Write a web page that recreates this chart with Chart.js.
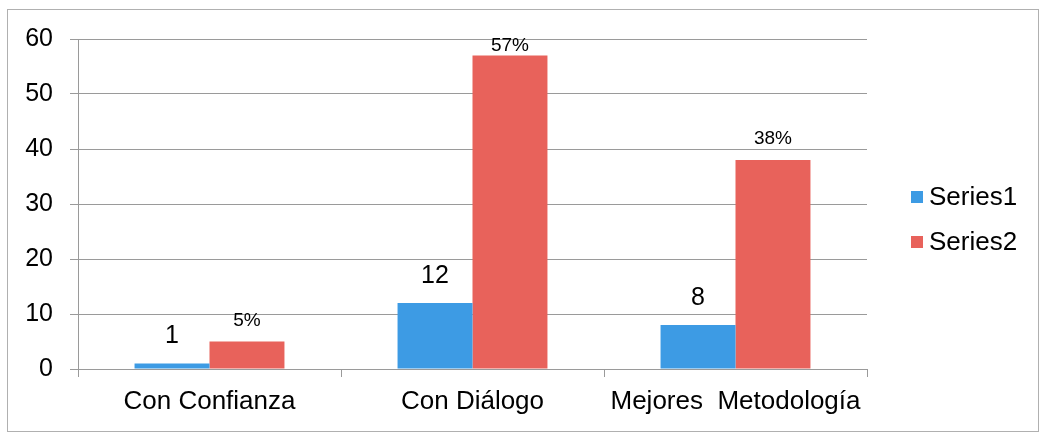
<!DOCTYPE html>
<html>
<head>
<meta charset="utf-8">
<script src="https://cdn.jsdelivr.net/npm/chart.js@4"></script>
<style>
html,body{margin:0;padding:0;background:#fff;}
canvas{display:block;}
</style>
</head>
<body>
<canvas id="c" width="1039" height="433"></canvas>
<script>
const categories = ['Con Confianza', 'Con Diálogo', 'Mejores  Metodología'];
const series1 = [1, 12, 8];
const series2 = [5, 57, 38];
const series2Labels = ['5%', '57%', '38%'];
const yTicks = [0, 10, 20, 30, 40, 50, 60];

const BLUE = '#3d9be4';
const RED = '#e8625b';
const GRID = '#9a9a9a';
const FONT = '"Liberation Sans", Arial, sans-serif';

const framePlugin = {
  id: 'frame',
  beforeDraw(chart) {
    const ctx = chart.ctx;
    ctx.save();
    ctx.fillStyle = '#fff';
    ctx.fillRect(0, 0, chart.width, chart.height);
    ctx.strokeStyle = '#b0b0b0';
    ctx.lineWidth = 1;
    ctx.strokeRect(7.5, 9.5, 1031, 422);
    ctx.restore();
  }
};

const labelPlugin = {
  id: 'labels',
  afterDatasetsDraw(chart) {
    const ctx = chart.ctx;
    const top = chart.chartArea.top;
    ctx.save();
    ctx.fillStyle = '#000';
    ctx.textAlign = 'center';
    ctx.textBaseline = 'middle';
    chart.getDatasetMeta(0).data.forEach((bar, i) => {
      ctx.font = '25px ' + FONT;
      ctx.fillText(String(series1[i]), bar.x, bar.y - 27);
    });
    chart.getDatasetMeta(1).data.forEach((bar, i) => {
      ctx.font = '19px ' + FONT;
      ctx.fillText(series2Labels[i], bar.x, Math.max(bar.y - 21, top + 7));
    });
    ctx.restore();
  }
};

const legendPlugin = {
  id: 'customLegend',
  afterDraw(chart) {
    const ctx = chart.ctx;
    ctx.save();
    ctx.textAlign = 'left';
    ctx.textBaseline = 'middle';
    ctx.font = '26px ' + FONT;
    const ys = [197, 242];
    chart.data.datasets.forEach((ds, i) => {
      ctx.fillStyle = ds.backgroundColor;
      ctx.fillRect(911, ys[i] - 6, 12, 12);
      ctx.fillStyle = '#000';
      ctx.fillText(ds.label, 929, ys[i] + 1);
    });
    ctx.restore();
  }
};

new Chart(document.getElementById('c'), {
  type: 'bar',
  data: {
    labels: categories,
    datasets: [
      { label: 'Series1', data: series1, backgroundColor: BLUE, borderWidth: 0 },
      { label: 'Series2', data: series2, backgroundColor: RED, borderWidth: 0 }
    ]
  },
  options: {
    responsive: false,
    animation: false,
    devicePixelRatio: 1,
    categoryPercentage: 0.57,
    barPercentage: 1.0,
    layout: { padding: { left: 0, top: 39, right: 172, bottom: 0 } },
    plugins: { legend: { display: false }, tooltip: { enabled: false } },
    scales: {
      x: {
        grid: { display: true, drawOnChartArea: false, drawTicks: true, tickLength: 8, color: GRID, offset: true },
        border: { display: true, color: GRID },
        ticks: { color: '#000', font: { family: FONT, size: 26 }, padding: 9, maxRotation: 0, autoSkip: false },
        afterFit(s) { s.height = 64; }
      },
      y: {
        min: 0, max: 60,
        afterBuildTicks(s) { s.ticks = yTicks.map(v => ({ value: v })); },
        grid: { color: GRID, tickLength: 8, drawTicks: true },
        border: { display: true, color: GRID },
        ticks: { color: '#000', font: { family: FONT, size: 25 }, padding: 17 },
        afterFit(s) { s.width = 78; }
      }
    }
  },
  plugins: [framePlugin, labelPlugin, legendPlugin]
});
</script>
</body>
</html>
